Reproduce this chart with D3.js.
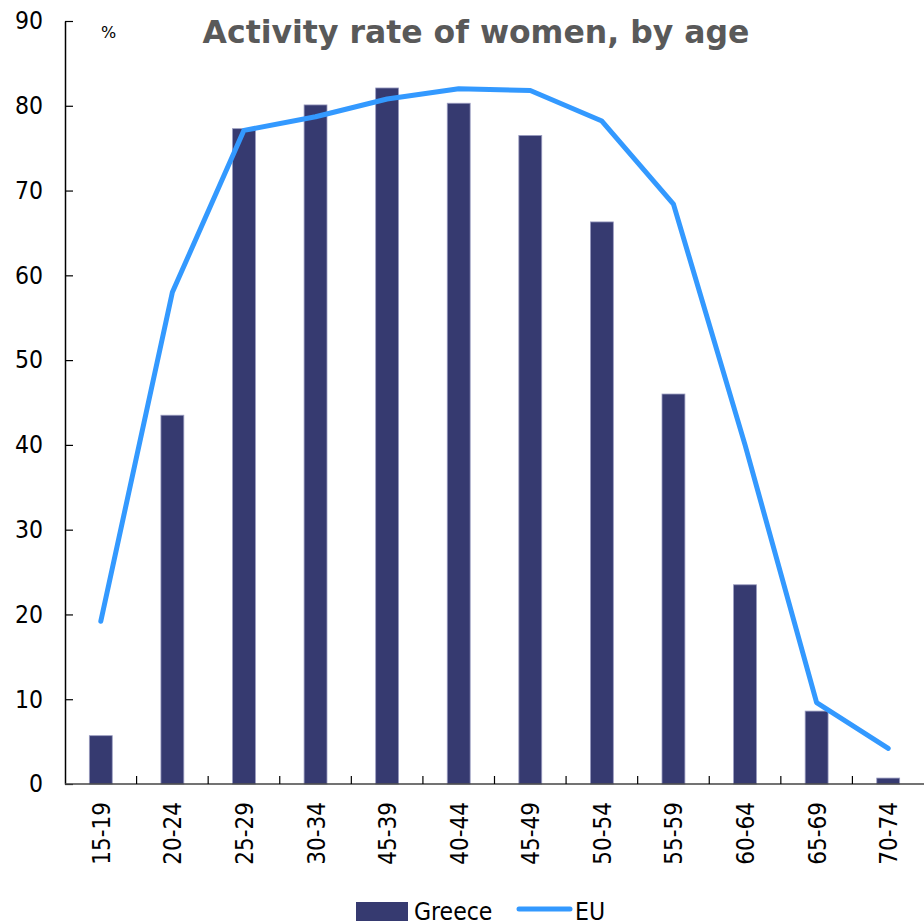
<!DOCTYPE html>
<html>
<head>
<meta charset="utf-8">
<script src="https://cdn.jsdelivr.net/npm/d3@7"></script>
<style>
  body { margin: 0; background: #fff; }
  svg { display: block; }
  text { font-family: "DejaVu Sans Condensed", "DejaVu Sans", sans-serif; }
</style>
</head>
<body>
<svg id="chart" width="924" height="921"></svg>
<script>
// data
var ageGroups = ["15-19", "20-24", "25-29", "30-34", "45-39", "40-44", "45-49", "50-54", "55-59", "60-64", "65-69", "70-74"];
var greece = [5.7, 43.5, 77.3, 80.1, 82.1, 80.3, 76.5, 66.3, 46.0, 23.5, 8.6, 0.7];
var eu = [19.2, 58.0, 77.1, 78.7, 80.8, 82.0, 81.8, 78.2, 68.4, 40.0, 9.6, 4.2];
var yTicks = [0, 10, 20, 30, 40, 50, 60, 70, 80, 90];

var app = app || {};

app.main = (function(){

  function drawChart(){
    var svg = d3.select("#chart");
    var left = 65, right = 924, top = 21, bottom = 784;

    var x = d3.scaleBand()
      .domain(ageGroups)
      .range([left, right]);

    var y = d3.scaleLinear()
      .domain([0, 90])
      .range([bottom, top]);

    // bars
    svg.selectAll(".bar")
      .data(greece)
      .enter().append("rect")
      .attr("class", "bar")
      .attr("x", function(d, i){ return x(ageGroups[i]) + x.bandwidth() * 0.34; })
      .attr("width", x.bandwidth() * 0.32)
      .attr("y", function(d){ return y(d); })
      .attr("height", function(d){ return bottom - y(d); })
      .attr("fill", "#363a70")
      .attr("stroke", "#9a9cc0")
      .attr("stroke-width", 0.8);

    // EU line
    var line = d3.line()
      .x(function(d, i){ return x(ageGroups[i]) + x.bandwidth() / 2; })
      .y(function(d){ return y(d); });

    svg.append("path")
      .datum(eu)
      .attr("d", line)
      .attr("fill", "none")
      .attr("stroke", "#3399ff")
      .attr("stroke-width", 5)
      .attr("stroke-linecap", "round")
      .attr("stroke-linejoin", "round");

    // y axis, ticks pointing in
    var yAxis = svg.append("g")
      .attr("transform", "translate(" + left + ",0)")
      .call(d3.axisLeft(y).tickValues(yTicks).tickSize(-8).tickSizeOuter(0).tickPadding(22));
    yAxis.select(".domain").attr("stroke", "#000").attr("stroke-width", 1.5);
    yAxis.selectAll(".tick line").attr("stroke", "#000").attr("stroke-width", 1.2);
    yAxis.selectAll("text")
      .attr("font-size", 24.5)
      .attr("fill", "#000")
      .style("font-family", "'DejaVu Sans Condensed', 'DejaVu Sans', sans-serif");

    // x axis: line + boundary ticks
    var xAxis = svg.append("g").attr("class", "x-axis");
    xAxis.append("line")
      .attr("x1", left).attr("x2", right)
      .attr("y1", bottom).attr("y2", bottom)
      .attr("stroke", "#444").attr("stroke-width", 1.5);
    xAxis.selectAll(".sep")
      .data(ageGroups.slice(1))
      .enter().append("line")
      .attr("x1", function(d){ return x(d); })
      .attr("x2", function(d){ return x(d); })
      .attr("y1", bottom).attr("y2", bottom - 8)
      .attr("stroke", "#000").attr("stroke-width", 1.2);
    xAxis.selectAll(".lab")
      .data(ageGroups)
      .enter().append("text")
      .attr("transform", function(d){
        return "translate(" + (x(d) + x.bandwidth() / 2 + 9) + "," + (bottom + 18) + ") rotate(-90)";
      })
      .attr("text-anchor", "end")
      .attr("font-size", 24)
      .attr("fill", "#000")
      .text(function(d){ return d; });

    // title and unit
    svg.append("text")
      .attr("x", 476).attr("y", 43)
      .attr("text-anchor", "middle")
      .attr("font-size", 31.5)
      .attr("font-weight", "bold")
      .attr("fill", "#595959")
      .style("font-family", "'DejaVu Sans', sans-serif")
      .text("Activity rate of women, by age");

    svg.append("text")
      .attr("x", 101).attr("y", 38)
      .attr("font-size", 16)
      .attr("fill", "#000")
      .style("font-family", "'DejaVu Sans', sans-serif")
      .text("%");

    // legend
    var legend = svg.append("g");
    legend.append("rect")
      .attr("x", 356).attr("y", 902).attr("width", 52).attr("height", 19)
      .attr("fill", "#363a70");
    legend.append("text")
      .attr("x", 414).attr("y", 920)
      .attr("font-size", 24.5)
      .text("Greece");
    legend.append("line")
      .attr("x1", 519).attr("x2", 570)
      .attr("y1", 909).attr("y2", 909)
      .attr("stroke", "#3399ff").attr("stroke-width", 5)
      .attr("stroke-linecap", "round");
    legend.append("text")
      .attr("x", 575).attr("y", 920)
      .attr("font-size", 24.5)
      .text("EU");
  }

  var init = function(){
    drawChart();
  };

  return {
    init: init
  };
})();

window.addEventListener('DOMContentLoaded', app.main.init);
</script>
</body>
</html>
